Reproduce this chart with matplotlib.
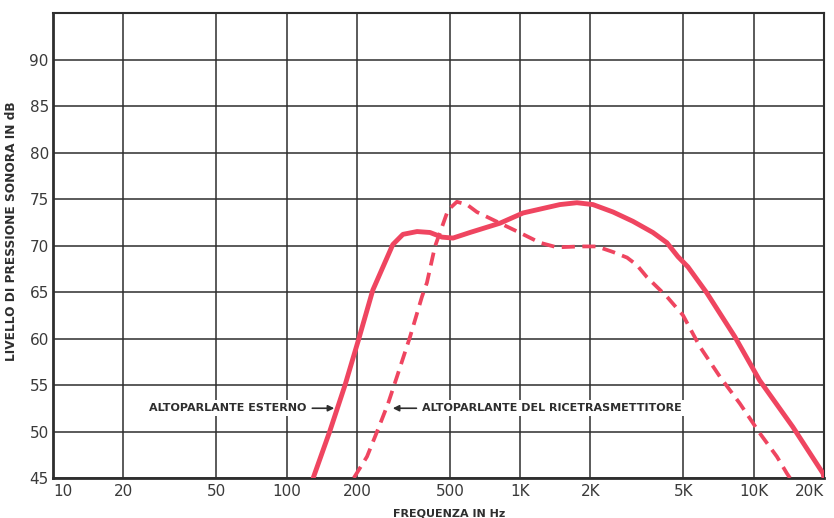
#Risposta in frequenza: altoparlante esterno vs altoparlante del ricetrasmettitore.

import matplotlib
matplotlib.use('Agg')
import matplotlib.pyplot as plt

freq_esterno = [130, 153, 178, 204, 234, 264, 285, 315, 362, 411, 463, 516, 610, 820,
                1030, 1480, 1750, 2050, 2500, 3040, 3700, 4250, 4740, 5230, 6300,
                8300, 10600, 14700, 19800, 20000]
db_esterno = [45, 50, 55, 60, 65.2, 68.2, 70.1, 71.2, 71.5, 71.4, 70.9, 70.8, 71.4, 72.4,
              73.5, 74.4, 74.6, 74.4, 73.6, 72.6, 71.4, 70.3, 68.8, 67.7, 64.9,
              60.2, 55.5, 50.5, 45.5, 45]

freq_ricetrasm = [194, 221, 246, 272, 297, 338, 380, 399, 432, 463, 491, 536, 592, 653,
                  820, 1030, 1216, 1440, 1800, 2130, 2500, 2870, 3160, 3490, 4250,
                  4980, 5890, 7165, 8730, 10630, 12570, 13870, 14300]
db_ricetrasm = [45, 47.3, 50.2, 53, 55.9, 60.2, 64.5, 66, 69.9, 72, 73.8, 74.7, 74.4, 73.6,
                72.4, 71.2, 70.3, 69.8, 69.9, 69.9, 69.3, 68.7, 67.9, 66.6, 64.5,
                62.5, 59.1, 55.9, 53, 49.8, 47.3, 45.5, 45]

x_ticks = [10, 20, 50, 100, 200, 500, 1000, 2000, 5000, 10000, 20000]
x_tick_labels = ['10', '20', '50', '100', '200', '500', '1K', '2K', '5K', '10K', '20K']
y_ticks = [45, 50, 55, 60, 65, 70, 75, 80, 85, 90]

ROSSO = '#ef4560'
NERO = '#2e2e2e'

fig = plt.figure(figsize=(8.34, 5.18), dpi=100)
ax = fig.add_axes([53 / 834, 1 - 478 / 518, 771 / 834, 465 / 518])

ax.plot(freq_esterno, db_esterno, color=ROSSO, lw=3.5, solid_capstyle='round',
        solid_joinstyle='round', zorder=3)
ax.plot(freq_ricetrasm, db_ricetrasm, color=ROSSO, lw=2.7, linestyle=(0, (3.5, 2)), zorder=3)

ax.set_xscale('log')
ax.set_xlim(10, 20000)
ax.set_ylim(45, 95)
ax.set_xticks(x_ticks)
ax.set_xticklabels(x_tick_labels)
ax.minorticks_off()
ax.set_yticks(y_ticks)
ax.tick_params(length=0, labelsize=11, labelcolor='#3a3a3a')
ax.tick_params(axis='x', pad=4)
ax.tick_params(axis='y', pad=3)
labs = ax.get_xticklabels()
labs[0].set_ha('left')
labs[-1].set_ha('right')

ax.grid(True, color=NERO, lw=1.1)
ax.set_axisbelow(True)
for side in ['left', 'bottom']:
    ax.spines[side].set_linewidth(2.0)
for side in ['top', 'right']:
    ax.spines[side].set_linewidth(1.5)
for sp in ax.spines.values():
    sp.set_color(NERO)

ax.set_ylabel('LIVELLO DI PRESSIONE SONORA IN dB', fontsize=8.7, fontweight='bold', color=NERO)
ax.yaxis.set_label_coords(-0.045, 0.53)
ax.set_xlabel('FREQUENZA IN Hz', fontsize=8, fontweight='bold', color=NERO)
ax.xaxis.set_label_coords(0.514, -0.065)

# etichette con freccia
box = dict(facecolor='white', edgecolor='none', pad=2)
freccia = dict(arrowstyle='-|>', color=NERO, lw=1.2, mutation_scale=9, shrinkA=2, shrinkB=0)
ax.annotate('ALTOPARLANTE ESTERNO', xy=(160, 52.5), xytext=(122, 52.5),
            ha='right', va='center', fontsize=8, fontweight='bold', color=NERO,
            bbox=box, arrowprops=freccia, zorder=4)
ax.annotate('ALTOPARLANTE DEL RICETRASMETTITORE', xy=(285, 52.5), xytext=(380, 52.5),
            ha='left', va='center', fontsize=8, fontweight='bold', color=NERO,
            bbox=box, arrowprops=freccia, zorder=2)

fig.savefig('out.png', dpi=100, facecolor='white')
